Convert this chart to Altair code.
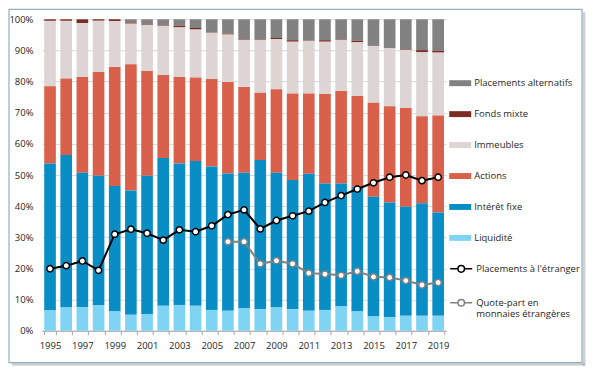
import altair as alt
import pandas as pd

years = [str(y) for y in range(1995, 2020)]

categories = ["Placements alternatifs", "Fonds mixte", "Immeubles",
              "Actions", "Intérêt fixe", "Liquidité"]
cat_colors = ["#828282", "#7b2b1f", "#ddd5d4", "#d9614b", "#098dc5", "#80d4f3"]

liquidite = [6.5, 7.5, 7.6, 8.3, 6.2, 5.1, 5.4, 8.0, 8.3, 8.0, 6.7, 6.4, 7.3,
             6.9, 7.5, 6.9, 6.4, 6.7, 7.8, 6.2, 4.6, 4.4, 4.8, 4.8, 4.8]
interet_fixe = [47.2, 48.9, 43.1, 41.5, 40.3, 39.9, 44.4, 47.5, 45.4, 46.5, 46.0,
                44.1, 43.4, 47.9, 43.2, 41.5, 44.0, 40.6, 39.5, 40.1, 38.4, 36.8,
                35.0, 36.1, 33.2]
actions = [24.8, 24.6, 30.8, 33.3, 38.2, 40.6, 33.6, 26.6, 27.8, 26.8, 28.1, 29.4,
           27.6, 21.6, 26.8, 27.8, 25.8, 28.7, 29.7, 29.1, 30.2, 30.9, 31.7, 28.0, 31.1]
immeubles = [21.0, 18.5, 17.3, 16.4, 14.7, 13.0, 14.8, 15.8, 15.9, 15.4, 14.9, 15.2,
             15.1, 17.0, 16.1, 16.6, 16.9, 16.8, 16.4, 17.2, 18.2, 18.6, 18.6, 20.5, 20.2]
fonds_mixte = [0.5, 0.5, 1.2, 0.5, 0.6, 0.4, 0.2, 0.2, 0.5, 0.5, 0.2, 0.3, 0.2,
               0.2, 0.4, 0.5, 0.2, 0.5, 0.2, 0.5, 0.1, 0.1, 0.2, 0.7, 0.6]
alternatifs = [0.0, 0.0, 0.0, 0.0, 0.0, 1.0, 1.6, 1.9, 2.1, 2.8, 4.1, 4.6, 6.4,
               6.4, 6.0, 6.7, 6.7, 6.7, 6.4, 6.9, 8.5, 9.2, 9.7, 9.9, 10.1]

etranger = [19.9, 20.9, 22.4, 19.4, 31.0, 32.6, 31.3, 29.1, 32.4, 31.8, 33.7, 37.3,
            38.8, 32.7, 35.4, 36.9, 38.4, 41.2, 43.4, 45.5, 47.5, 49.3, 50.0, 48.2, 49.3]
quote_years = [str(y) for y in range(2006, 2020)]
quote_part = [28.6, 28.6, 21.5, 22.5, 21.5, 18.5, 18.2, 17.8, 19.1, 17.3, 17.1,
              16.1, 14.7, 15.5]

y_ticks = [0.0, 0.1, 0.2, 0.3, 0.4, 0.5, 0.6, 0.7, 0.8, 0.9, 1.0]

line_names = ["Placements à l'étranger", "Quote-part en monnaies étrangères"]
line_colors = ["#000000", "#808080"]

series = {
    "Placements alternatifs": alternatifs,
    "Fonds mixte": fonds_mixte,
    "Immeubles": immeubles,
    "Actions": actions,
    "Intérêt fixe": interet_fixe,
    "Liquidité": liquidite,
}

rows = []
for i, y in enumerate(years):
    for k, c in enumerate(categories):
        rows.append({"year": y, "cat": c, "value": series[c][i] / 100.0, "ord": 5 - k})
bars_df = pd.DataFrame(rows)

lrows = [{"year": y, "series": line_names[0], "value": v / 100.0} for y, v in zip(years, etranger)]
lrows += [{"year": y, "series": line_names[1], "value": v / 100.0} for y, v in zip(quote_years, quote_part)]
lines_df = pd.DataFrame(lrows)

FONT = "Open Sans"
TXT = "#262626"

x_axis = alt.Axis(labelExpr="toNumber(datum.value) % 2 == 1 ? datum.value : ''",
                  labelAngle=0, tickBand="extent", labelOverlap=False,
                  domainColor="#a6a6a6", tickColor="#a6a6a6", tickSize=4,
                  labelPadding=6, grid=False, labelFont=FONT, labelFontSize=9.5,
                  labelColor=TXT, title=None)
x_scale = alt.Scale(domain=years, paddingInner=0.28, paddingOuter=0.14)
y_axis = alt.Axis(values=y_ticks, labelExpr="format(datum.value, '.0%')",
                  ticks=False, domain=False, gridColor="#d9d9d9", labelPadding=9,
                  labelOverlap=False, labelFont=FONT, labelFontSize=9.5,
                  labelColor=TXT, title=None)
y_scale = alt.Scale(domain=[0, 1], nice=False)

bar_path = "M-1,-0.27L1,-0.27L1,0.27L-1,0.27Z"
line_path = "M-1,0L-0.3,0M0.3,0L1,0M-0.3,0A0.3,0.3 0 1,1 0.3,0A0.3,0.3 0 1,1 -0.3,0Z"

bars = alt.Chart(bars_df).mark_bar().encode(
    x=alt.X("year:O", scale=x_scale, axis=x_axis),
    y=alt.Y("value:Q", stack="zero", scale=y_scale, axis=y_axis),
    fill=alt.Fill("cat:N", scale=alt.Scale(domain=categories, range=cat_colors),
                  legend=alt.Legend(title=None, orient="none", legendX=408, legendY=53,
                                    symbolType=bar_path, symbolSize=484,
                                    symbolStrokeWidth=0, rowPadding=15, labelOffset=3,
                                    labelFont=FONT, labelFontSize=9.5, labelColor=TXT)),
    order=alt.Order("ord:Q"),
)

stroke_enc = alt.Stroke(
    "series:N", scale=alt.Scale(domain=line_names, range=line_colors),
    legend=alt.Legend(title=None, orient="none", legendX=408, legendY=238,
                      symbolType=line_path, symbolSize=484, symbolFillColor="white",
                      symbolStrokeWidth=1.5, rowPadding=15, labelOffset=3,
                      labelFont=FONT, labelFontSize=9.5, labelColor=TXT,
                      labelExpr="datum.label == 'Quote-part en monnaies étrangères' ? ['Quote-part en', 'monnaies étrangères'] : datum.label"),
)

lines = alt.Chart(lines_df).mark_line(strokeWidth=2).encode(
    x=alt.X("year:O", scale=x_scale, axis=x_axis),
    y=alt.Y("value:Q", scale=y_scale, axis=y_axis),
    stroke=stroke_enc)
points = alt.Chart(lines_df).mark_point(shape="circle", filled=True, fill="white",
                                        size=40, strokeWidth=1.5, opacity=1).encode(
    x=alt.X("year:O", scale=x_scale, axis=x_axis),
    y=alt.Y("value:Q", scale=y_scale, axis=y_axis),
    stroke=stroke_enc)

one = pd.DataFrame({"a": [0]})
shadow_r = alt.Chart(one).mark_rule(stroke="#9a9a9a", strokeWidth=3, opacity=0.45).encode(
    x=alt.value(543), y=alt.value(-7), y2=alt.value(347))
shadow_b = alt.Chart(one).mark_rule(stroke="#9a9a9a", strokeWidth=3, opacity=0.45).encode(
    x=alt.value(-30), x2=alt.value(544), y=alt.value(345.5))
frame = alt.Chart(one).mark_rect(fill="transparent", stroke="#8fb0c2", strokeWidth=1.2).encode(
    x=alt.value(-33), x2=alt.value(541), y=alt.value(-10), y2=alt.value(344))

chart = alt.layer(bars, lines, points, shadow_r, shadow_b, frame).properties(
    width=405, height=312,
    padding={"left": 34, "top": 11, "right": 141, "bottom": 37},
    autosize=alt.AutoSizeParams(type="none"),
    background="white",
).configure_view(stroke=None)

chart.save("out.html", embed_options={"renderer": "svg", "actions": False})
